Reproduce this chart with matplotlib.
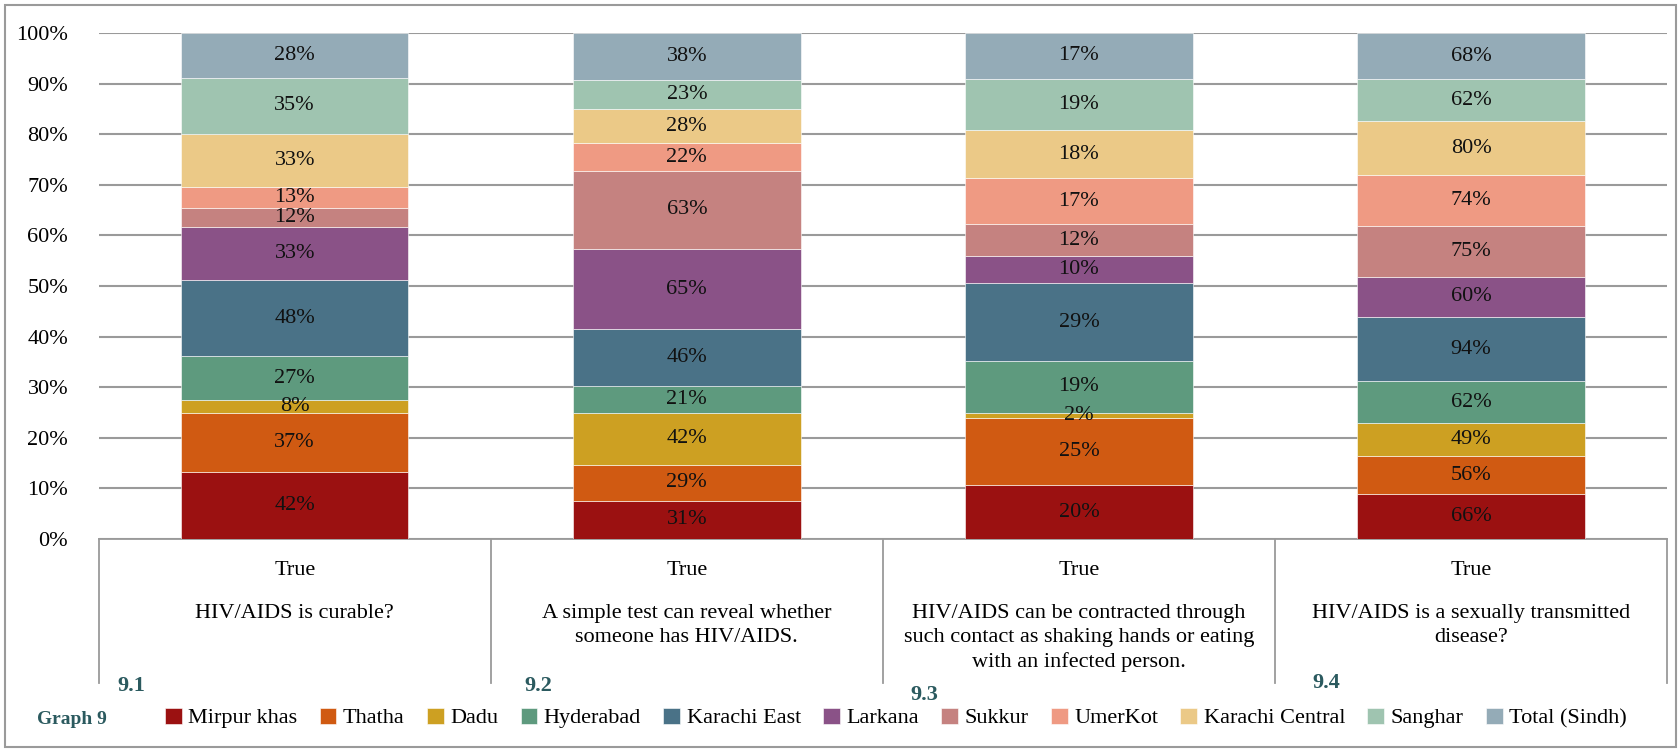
import matplotlib.pyplot as plt
from matplotlib.patches import Rectangle
from matplotlib.transforms import blended_transform_factory
import numpy as np

plt.rcParams['font.family'] = ['Liberation Serif', 'DejaVu Serif']

questions = [
    "HIV/AIDS is curable?",
    "A simple test can reveal whether\nsomeone has HIV/AIDS.",
    "HIV/AIDS can be contracted through\nsuch contact as shaking hands or eating\nwith an infected person.",
    "HIV/AIDS is a sexually transmitted\ndisease?",
]
answer = "True"
numbers = ["9.1", "9.2", "9.3", "9.4"]

districts = ["Mirpur khas", "Thatha", "Dadu", "Hyderabad", "Karachi East", "Larkana",
             "Sukkur", "UmerKot", "Karachi Central", "Sanghar", "Total (Sindh)"]
colors = ["#9B1111", "#D05A12", "#CDA022", "#5E9A7E", "#4A7287", "#8A5287",
          "#C58280", "#EF9A83", "#EBC987", "#9FC4B0", "#94ABB7"]

# percentage answering "True", per district, one list per question
q1 = [42, 37, 8, 27, 48, 33, 12, 13, 33, 35, 28]
q2 = [31, 29, 42, 21, 46, 65, 63, 22, 28, 23, 38]
q3 = [20, 25, 2, 19, 29, 10, 12, 17, 18, 19, 17]
q4 = [66, 56, 49, 62, 94, 60, 75, 74, 80, 62, 68]

data = np.array([q1, q2, q3, q4], dtype=float)
shares = data / data.sum(axis=1, keepdims=True) * 100

fig = plt.figure(figsize=(16.81, 7.5), dpi=100)
ax = fig.add_axes([0.0587, 0.2813, 0.9330, 0.6747])

x = np.arange(len(questions))
bottom = np.zeros(len(questions))
for i, name in enumerate(districts):
    ax.bar(x, shares[:, i], 0.58, bottom=bottom, color=colors[i], label=name,
           edgecolor='white', linewidth=0.4, zorder=3)
    for j in range(len(questions)):
        ax.text(x[j], bottom[j] + shares[j, i] / 2, f"{int(data[j, i])}%",
                ha='center', va='center', fontsize=16, color='#111111', zorder=4)
    bottom += shares[:, i]

ax.set_xlim(-0.5, 3.5)
ax.set_ylim(0, 100)
ax.set_yticks(np.arange(0, 101, 10))
ax.set_yticklabels([f"{v}%" for v in range(0, 101, 10)], fontsize=16)
ax.tick_params(axis='y', length=0, pad=22)
ax.set_xticks([])
ax.yaxis.grid(True, color='#9a9a9a', linewidth=1.5, zorder=0)
ax.set_axisbelow(True)
for s in ['left', 'right', 'top']:
    ax.spines[s].set_visible(False)
ax.spines['bottom'].set_color('#9a9a9a')
ax.spines['bottom'].set_linewidth(1.3)

# category table under the bars
trans = blended_transform_factory(ax.transData, ax.transAxes)
for b in np.arange(-0.5, 4.0, 1.0):
    ax.plot([b, b], [0, -0.285], transform=trans, color='#9a9a9a',
            linewidth=1.3, clip_on=False)
for j, q in enumerate(questions):
    ax.text(x[j], -0.063, answer, transform=trans, ha='center', va='center', fontsize=16)
    ax.text(x[j], -0.128, q, transform=trans, ha='center', va='top', fontsize=16,
            linespacing=1.35)

num_pos = [(131, 686), (538, 686), (924, 695), (1326, 683)]
for n, (px, py) in zip(numbers, num_pos):
    fig.text(px / 1681, 1 - py / 750, n, ha='center', va='center', fontsize=16,
             fontweight='bold', color='#2B5A5F')

fig.text(37 / 1681, 1 - 719 / 750, "Graph 9", ha='left', va='center', fontsize=14,
         fontweight='bold', color='#2B5A5F')

fig.legend(loc='center', bbox_to_anchor=(896 / 1681, 1 - 718 / 750), ncol=11,
           frameon=False, fontsize=16, handlelength=0.75, handleheight=0.75,
           handletextpad=0.3, columnspacing=1.0)

fig.patches.append(Rectangle((0.003, 0.004), 0.994, 0.99, transform=fig.transFigure,
                             fill=False, edgecolor='#9a9a9a', linewidth=1.5))

fig.savefig('out.png', dpi=100)
